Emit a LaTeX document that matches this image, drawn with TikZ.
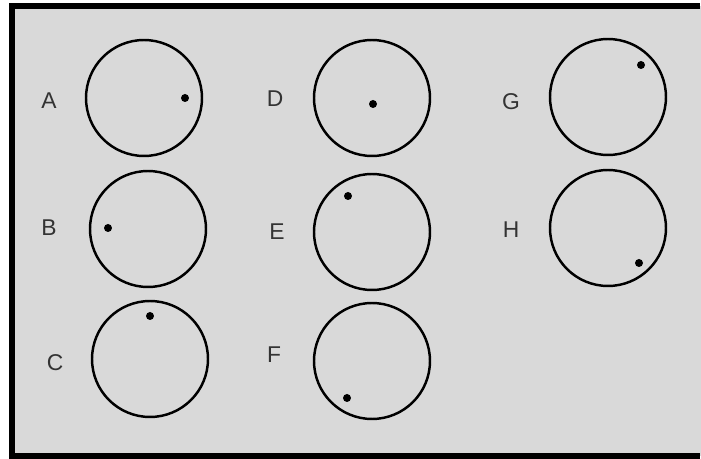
\documentclass[tikz,border=0pt]{standalone}
\usepackage{fontspec}
\setmainfont{Liberation Sans}
\usepackage{tikz}
\usetikzlibrary{positioning}
\definecolor{panelgray}{HTML}{D9D9D9}
\definecolor{inkgray}{HTML}{333333}
\tikzset{
  dial/.style={draw=black, circle, line width=1.4pt, minimum size=2.32cm, inner sep=0pt},
  spot/.style={fill=black, circle, minimum size=0.16cm, inner sep=0pt},
  letter/.style={text=inkgray, font=\fontsize{13}{15}\selectfont, inner sep=0pt},
  frame/.style={line width=0.12cm, black},
}

\begin{document}
\begin{tikzpicture}[x=0.02cm, y=-0.02cm]
        \useasboundingbox (0,0) rectangle (701,459);
        \fill[white] (0,0) rectangle (701,459);
        \fill[panelgray] (12,6) rectangle (701,456);
        \draw[frame] (700,6) -- (12,6) -- (12,456) -- (700,456);
        % left column
        \node[dial] (cA) at (144,98) {};
        \node[dial] (cB) at (148,229) {};
        \node[dial] (cC) at (150,359) {};
        \node[letter] (lA) at (49,101) {A};
        \node[letter] (lB) at (49,228) {B};
        \node[letter] (lC) at (55,363) {C};
        \node[spot] (dA) at (185,98) {};
        \node[spot] (dB) at (108,228) {};
        \node[spot] (dC) at (150,316) {};
        % middle column
        \node[dial] (cD) at (372,98) {};
        \node[dial] (cE) at (372,232) {};
        \node[dial] (cF) at (372,361) {};
        \node[letter] (lD) at (275,99) {D};
        \node[letter] (lE) at (277,232) {E};
        \node[letter] (lF) at (274,355) {F};
        \node[spot] (dD) at (373,104) {};
        \node[spot] (dE) at (348,196) {};
        \node[spot] (dF) at (347,398) {};
        % right column
        \node[dial] (cG) at (608,97) {};
        \node[dial] (cH) at (608,228) {};
        \node[letter] (lG) at (511,102) {G};
        \node[letter] (lH) at (511,230) {H};
        \node[spot] (dG) at (641,65) {};
        \node[spot] (dH) at (639,263) {};
      \end{tikzpicture}
\end{document}
